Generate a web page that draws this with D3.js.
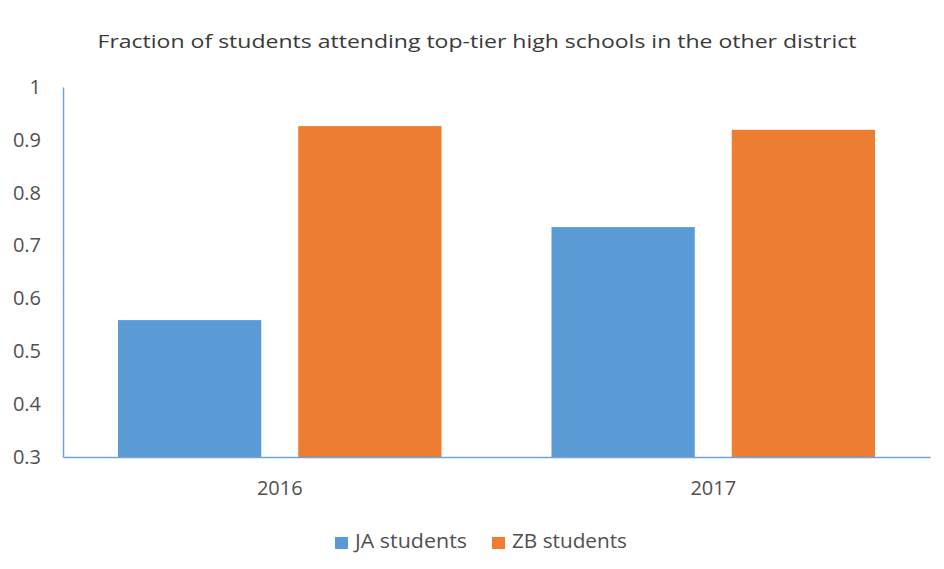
<!DOCTYPE html>
<html>
<head>
<meta charset="utf-8">
<script src="https://cdn.jsdelivr.net/npm/d3@7"></script>
<style>
  html, body { margin: 0; padding: 0; background: #fff; }
  svg { display: block; }
  text { font-family: "Open Sans", "Noto Sans", sans-serif; }
</style>
</head>
<body>
<svg id="chart" width="944" height="569"></svg>
<script>
// Chart data
const years = ["2016", "2017"];
const seriesNames = ["JA students", "ZB students"];
const jaValues = [0.559, 0.735];
const zbValues = [0.926, 0.919];
const yTicks = [0.3, 0.4, 0.5, 0.6, 0.7, 0.8, 0.9, 1];
const colors = ["#5b9bd5", "#ed7d31"];
const titleText = "Fraction of students attending top-tier high schools in the other district";

const rows = years.map((yr, i) => ({ year: yr, values: [jaValues[i], zbValues[i]] }));

const svg = d3.select("#chart");
const margin = { left: 63, right: 14, top: 87, bottom: 112 };
const W = 944, H = 569;

const x0 = d3.scaleBand().domain(years).range([margin.left, W - margin.right]).padding(0);
const groupInset = 55;
const x1 = d3.scaleBand().domain(seriesNames)
  .range([0, x0.bandwidth() - 2 * groupInset])
  .paddingInner(0.205).paddingOuter(0);
const y = d3.scaleLinear().domain([0.3, 1]).range([H - margin.bottom, margin.top]);

// Title
svg.append("text")
  .attr("x", 477).attr("y", 48)
  .attr("text-anchor", "middle")
  .attr("font-size", 19)
  .attr("fill", "#3a3a3a")
  .attr("textLength", 759).attr("lengthAdjust", "spacingAndGlyphs")
  .text(titleText);

// Bars
const groups = svg.append("g").selectAll("g").data(rows).join("g")
  .attr("transform", d => `translate(${x0(d.year) + groupInset},0)`);
groups.selectAll("rect")
  .data(d => d.values.map((v, i) => ({ name: seriesNames[i], v, i })))
  .join("rect")
  .attr("x", d => x1(d.name))
  .attr("width", x1.bandwidth())
  .attr("y", d => y(d.v))
  .attr("height", d => y(0.3) - y(d.v))
  .attr("fill", d => colors[d.i]);

// Y axis
const yAxis = svg.append("g")
  .attr("transform", `translate(${margin.left},0)`)
  .call(d3.axisLeft(y).tickValues(yTicks).tickSize(0).tickPadding(22).tickFormat(d3.format("")));
yAxis.select(".domain").attr("stroke", "#6fa4d8").attr("stroke-width", 1.5);
yAxis.selectAll("text")
  .attr("font-size", 20).attr("fill", "#505050")
  .attr("font-family", "'Open Sans', sans-serif");

// X axis
const xAxis = svg.append("g")
  .attr("transform", `translate(0,${H - margin.bottom})`)
  .call(d3.axisBottom(x0).tickSize(0).tickPadding(24));
xAxis.select(".domain").attr("stroke", "#6fa4d8").attr("stroke-width", 1.5);
xAxis.selectAll("text")
  .attr("font-size", 20).attr("fill", "#505050")
  .attr("font-family", "'Open Sans', sans-serif");

// Legend
const legendX = [335, 492];
const legendLen = [112, 115];
const legend = svg.append("g").selectAll("g").data(seriesNames).join("g")
  .attr("transform", (d, i) => `translate(${legendX[i]},537)`);
legend.append("rect").attr("width", 13).attr("height", 12)
  .attr("fill", (d, i) => colors[i]);
legend.append("text").attr("x", 20).attr("y", 4).attr("dy", "0.35em")
  .attr("font-size", 20).attr("fill", "#505050")
  .attr("textLength", (d, i) => legendLen[i]).attr("lengthAdjust", "spacingAndGlyphs")
  .text(d => d);
</script>
</body>
</html>
